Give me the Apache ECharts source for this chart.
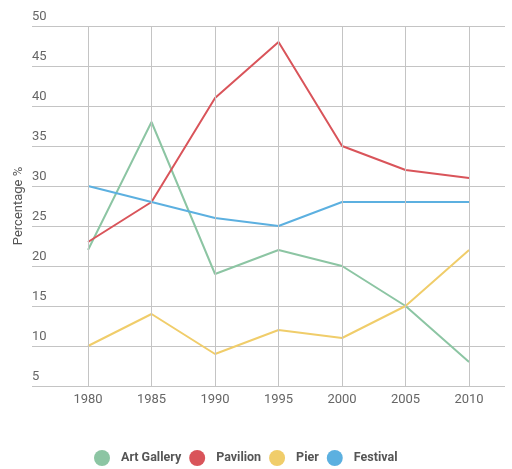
<!DOCTYPE html>
<html>
<head>
<meta charset="utf-8">
<script src="https://cdn.jsdelivr.net/npm/echarts@6/dist/echarts.min.js"></script>
<style>
html,body{margin:0;padding:0;background:#fff;}
#chart{width:512px;height:469px;}
</style>
</head>
<body>
<div id="chart"></div>
<script>
const years = [1980, 1985, 1990, 1995, 2000, 2005, 2010];
const artGallery = [22, 38, 19, 22, 20, 15, 8];
const pavilion = [23, 28, 41, 48, 35, 32, 31];
const pier = [10, 14, 9, 12, 11, 15, 22];
const festival = [30, 28, 26, 25, 28, 28, 28];
const seriesNames = ['Art Gallery', 'Pavilion', 'Pier', 'Festival'];
const seriesColors = ['#8cc5a3', '#d9545a', '#f0cd6a', '#5cb0e0'];
const seriesValues = [artGallery, pavilion, pier, festival];

const chart = echarts.init(document.getElementById('chart'));
const font = 'Roboto';

const series = seriesValues.map((vals, i) => ({
  name: seriesNames[i],
  type: 'line',
  data: years.map((y, j) => [y, vals[j]]),
  showSymbol: false,
  symbol: 'circle',
  color: seriesColors[i],
  lineStyle: { width: 2, color: seriesColors[i] },
  z: 3
}));
series.unshift({
  name: '_grid',
  type: 'line',
  data: [],
  silent: true,
  z: 1,
  markLine: {
    silent: true,
    symbol: ['none', 'none'],
    label: { show: false },
    lineStyle: { color: '#c4c4c4', type: 'solid', width: 1 },
    data: years.map(y => ({ xAxis: y }))
  }
});

chart.setOption({
  animation: false,
  textStyle: { fontFamily: font },
  grid: { left: 32, right: 7, top: 26, bottom: 83 },
  xAxis: {
    type: 'value',
    min: 1975.59,
    max: 2012.83,
    axisLine: { show: false },
    axisTick: { show: false },
    splitLine: { show: false },
    axisLabel: {
      customValues: years,
      formatter: v => String(v),
      color: '#666',
      fontSize: 13,
      fontFamily: font,
      margin: 7
    }
  },
  yAxis: {
    type: 'value',
    min: 5,
    max: 50,
    interval: 5,
    name: 'Percentage %',
    nameLocation: 'middle',
    nameGap: 7,
    nameMoveOverlap: false,
    nameTextStyle: { color: '#555', fontSize: 13, fontFamily: font },
    axisLine: { show: false },
    axisTick: { show: false },
    splitLine: { lineStyle: { color: '#c4c4c4', width: 1 } },
    axisLabel: {
      inside: true,
      margin: 0,
      verticalAlign: 'bottom',
      padding: [0, 0, 3, 0],
      color: '#666',
      fontSize: 13,
      fontFamily: font
    }
  },
  legend: {
    data: seriesNames,
    top: 445,
    left: 89,
    icon: 'circle',
    itemWidth: 28,
    itemHeight: 16,
    itemGap: 8,
    textStyle: { color: '#555', fontSize: 12.5, fontWeight: 'bold', fontFamily: font }
  },
  series: series
});
</script>
</body>
</html>
